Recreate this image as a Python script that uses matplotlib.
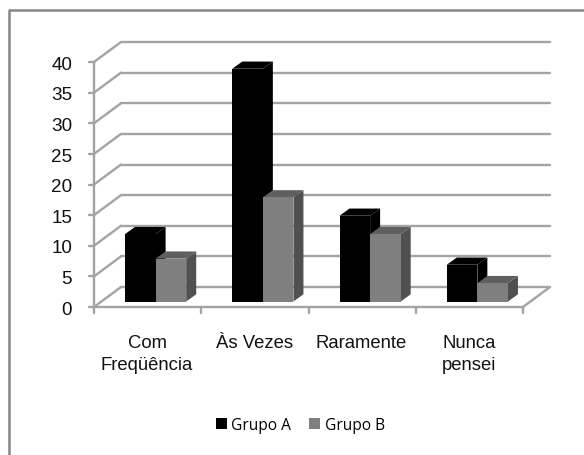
import matplotlib
matplotlib.use("Agg")
import matplotlib.pyplot as plt
from matplotlib.patches import Polygon, Rectangle

categories = ["Com\nFreqüência", "Às Vezes", "Raramente", "Nunca\npensei"]
grupo_a = [11, 38, 14, 6]
grupo_b = [7, 17, 11, 3]
series_names = ["Grupo A", "Grupo B"]
y_ticks = [0, 5, 10, 15, 20, 25, 30, 35, 40]

W, H = 584, 456
fig = plt.figure(figsize=(W / 100, H / 100), dpi=100, facecolor="white")
# frame: only top and left edges are visible in the crop
fig.add_artist(plt.Line2D([8.5 / W, 8.5 / W, 1], [0, 1 - 10.5 / H, 1 - 10.5 / H],
                          transform=fig.transFigure, color="#868686", linewidth=1.8))

L, R, T, B = 94, 523, 63, 308
ax = fig.add_axes([L / W, 1 - B / H, (R - L) / W, (B - T) / H])
ax.set_xlim(0, 4)
ax.set_ylim(0, 40)
ax.axis("off")

GRID = "#a3a3a3"
px_x = (R - L) / 4
px_y = (B - T) / 40
back_dx, back_dy = 27 / px_x, 20 / px_y
bar_w = 30.6 / px_x
bar_off = 31 / px_x
depth_dx, depth_dy = 10 / px_x, 7.2 / px_y
base_y = 5.5 / px_y

kw = dict(color=GRID, lw=1.7, clip_on=False, solid_capstyle="round", zorder=1)
for v in y_ticks:
    ax.plot([0, back_dx], [v, v + back_dy], **kw)
    ax.plot([back_dx, 4 + back_dx], [v + back_dy, v + back_dy], **kw)
    ax.plot([-0.05, 0], [v, v], **kw)
ax.plot([0, 0], [0, 40], **{**kw, "zorder": 2})
ax.plot([0, 4], [0, 0], **{**kw, "zorder": 2})
ax.plot([4, 4 + back_dx], [0, back_dy], **kw)
for i in range(5):
    ax.plot([i, i], [0, -0.9], **kw)


def bar3d(x0, h, face, top, side, z):
    y0 = base_y
    y1 = base_y + h
    x1 = x0 + bar_w
    ax.add_patch(Polygon([(x1, y0), (x1 + depth_dx, y0 + depth_dy), (x1 + depth_dx, y1 + depth_dy), (x1, y1)],
                         facecolor=side, edgecolor="none", clip_on=False, zorder=z))
    ax.add_patch(Polygon([(x0, y1), (x1, y1), (x1 + depth_dx, y1 + depth_dy), (x0 + depth_dx, y1 + depth_dy)],
                         facecolor=top, edgecolor="none", clip_on=False, zorder=z))
    ax.add_patch(Rectangle((x0, y0), bar_w, h, facecolor=face, edgecolor="none", clip_on=False, zorder=z + 0.1))


for i, (a, b) in enumerate(zip(grupo_a, grupo_b)):
    bar3d(i + bar_off, a, "black", "black", "black", 3)
    bar3d(i + bar_off + bar_w, b, "#7f7f7f", "#5f5f5f", "#505050", 4)

for v in y_ticks:
    ax.text(-0.205, v - 0.35, str(v), ha="right", va="center", fontsize=13.6, family="Liberation Sans", color="#111111")
for i, c in enumerate(categories):
    lines = c.split("\n")
    for j, line in enumerate(lines):
        ax.text(i + 0.495, -5.85 - j * 3.6, line, ha="center", va="center", fontsize=13.3,
                family="Liberation Sans", color="#111111")

# legend
handles = [Rectangle((0, 0), 1, 1, facecolor="black"), Rectangle((0, 0), 1, 1, facecolor="#7f7f7f")]
fig.legend(handles, series_names, loc="center", bbox_to_anchor=(300.5 / W, 1 - 426 / H), ncol=2, frameon=False,
           prop={"family": "Open Sans", "size": 11.2}, handlelength=0.68, handleheight=0.68, handletextpad=0.3,
           columnspacing=1.16, borderpad=0, borderaxespad=0)

fig.savefig("out.png", dpi=100)
